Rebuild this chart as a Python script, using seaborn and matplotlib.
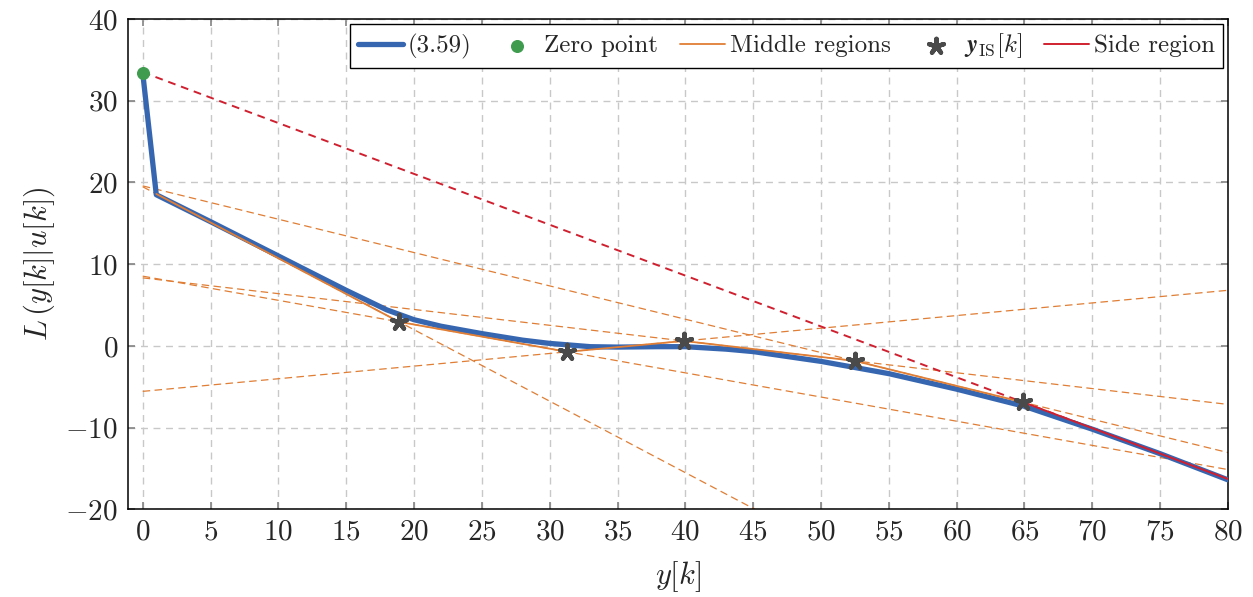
import seaborn as sns
import matplotlib.pyplot as plt
import pandas as pd
import numpy as np

# Curva (3.59)
curva_x = [0, 1, 5, 10, 15, 18, 20, 22, 25, 28, 30, 33, 35, 38, 40, 43, 45, 50, 55, 60, 65, 70, 75, 80]
curva_y = [33.4, 18.5, 15.2, 11.0, 6.8, 4.4, 3.2, 2.4, 1.5, 0.7, 0.3, -0.1, -0.15, -0.1, -0.1, -0.4, -0.7, -1.9, -3.4, -5.3, -7.4, -10.2, -13.2, -16.4]

# Punto cero
cero_x = [0]
cero_y = [33.4]

# Puntos y_IS[k]
is_x = [18.9, 31.3, 39.9, 52.5, 64.9]
is_y = [2.94, -0.73, 0.6, -1.84, -6.9]

# Regiones centrales (poligonal) y región lateral
medio_x = [1, 18.9, 31.3, 39.9, 52.5, 64.9]
medio_y = [18.6, 2.94, -0.73, 0.6, -1.84, -6.9]
lado_x = [64.9, 80]
lado_y = [-6.9, -16.3]

azul = '#3766b1'
naranja = '#e07e35'
verde = '#3f9c4f'
rojo = '#d0202f'
gris = '#4a4a4a'

sns.set_theme(style='white')
plt.rcParams['font.family'] = ['cmr10', 'DejaVu Serif']
plt.rcParams['mathtext.fontset'] = 'cm'
plt.rcParams['axes.formatter.use_mathtext'] = True

fig = plt.figure(figsize=(12.53, 5.97), dpi=100)
ax = fig.add_axes([0.102, 0.147, 0.878, 0.821])

# Extensiones punteadas de cada tramo
xx = np.array([0, 80])
for i in range(len(medio_x) - 1):
    m = (medio_y[i + 1] - medio_y[i]) / (medio_x[i + 1] - medio_x[i])
    b = medio_y[i] - m * medio_x[i]
    ax.plot(xx, m * xx + b, color=naranja, linestyle=(0, (6, 3.5)), linewidth=0.9, zorder=2)
m = (lado_y[1] - lado_y[0]) / (lado_x[1] - lado_x[0])
b = lado_y[0] - m * lado_x[0]
ax.plot(xx, m * xx + b, color=rojo, linestyle=(0, (4, 3)), linewidth=1.4, zorder=2)

df_curva = pd.DataFrame({'x': curva_x, 'y': curva_y})
sns.lineplot(data=df_curva, x='x', y='y', color=azul, linewidth=3.8, ax=ax, label='(3.59)', zorder=3)
ax.scatter(cero_x, cero_y, color=verde, s=70, zorder=6, label='Zero point')
ax.plot(medio_x, medio_y, color=naranja, linewidth=1.3, zorder=4, label='Middle regions')
ax.scatter(is_x, is_y, marker=(5, 2, 0), color=gris, s=120, linewidths=3.2, zorder=7,
           label=r'$\boldsymbol{y}_{\mathrm{IS}}[k]$')
ax.plot(lado_x, lado_y, color=rojo, linewidth=1.4, zorder=5, label='Side region')

ax.set_xlim(-1.1, 80)
ax.set_ylim(-20, 40)
ax.set_xticks(np.arange(0, 81, 5))
ax.set_yticks(np.arange(-20, 41, 10))
ax.grid(True, color='#c8c8c8', linestyle=(0, (5, 4)), linewidth=1.0)
ax.tick_params(axis='both', direction='in', labelsize=21, length=5, color='#888888',
               top=True, right=True, bottom=True, left=True, pad=7)
for s in ax.spines.values():
    s.set_color('black')
    s.set_linewidth(1.1)

ax.set_xlabel(r'$y[k]$', fontsize=22, labelpad=10)
ax.set_ylabel(r'$L\,(y[k]|u[k])$', fontsize=22, labelpad=6)

ax.legend(loc='upper right', ncol=5, fontsize=18, frameon=True, fancybox=False,
          edgecolor='black', framealpha=1, borderpad=0.3, handlelength=1.8,
          handletextpad=0.2, columnspacing=0.9, borderaxespad=0.2)

plt.savefig('out.png', dpi=100)
plt.close()
